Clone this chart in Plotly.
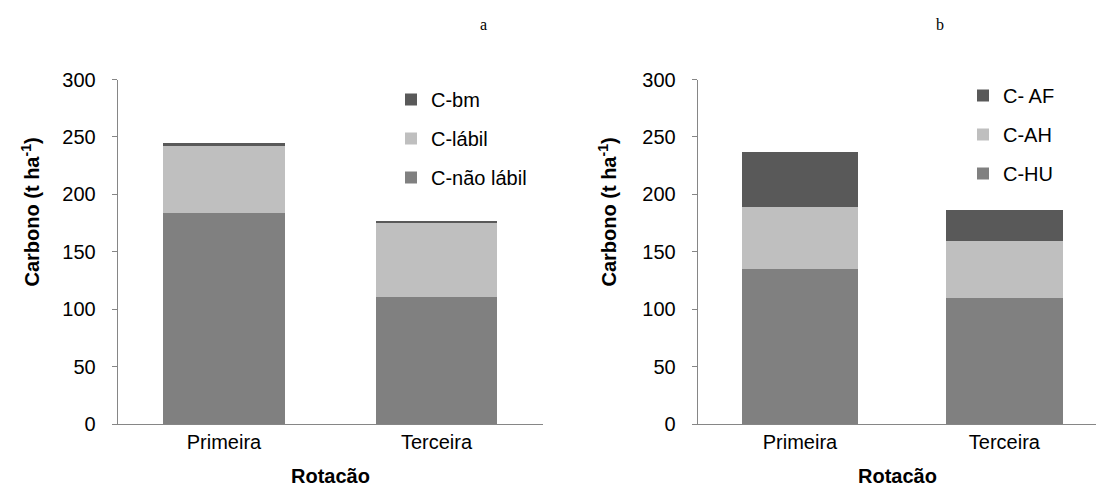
import plotly.graph_objects as go

W, H = 1096, 490

categories = ["Primeira", "Terceira"]

# Panel a
a_names = ["C-não lábil", "C-lábil", "C-bm"]
a_nao_labil = [183.7, 110.7]
a_labil = [59.2, 65.3]
a_bm = [1.7, 0.5]

# Panel b
b_names = ["C-HU", "C-AH", "C- AF"]
b_hu = [135.4, 110.1]
b_ah = [53.2, 49.2]
b_af = [48.3, 27.3]

colors = ["#808080", "#BFBFBF", "#595959"]
y_ticks = [0, 50, 100, 150, 200, 250, 300]

FONT = "Liberation Sans, Arial, sans-serif"
AXIS_COLOR = "#868686"

fig = go.Figure()

for i, (name, vals, col) in enumerate(zip(a_names, [a_nao_labil, a_labil, a_bm], colors)):
    fig.add_trace(go.Bar(x=categories, y=vals, name=name, marker=dict(color=col, line=dict(width=0)),
                         xaxis="x", yaxis="y", legend="legend", legendgroup="a" + name,
                         legendrank=10 - i))
for i, (name, vals, col) in enumerate(zip(b_names, [b_hu, b_ah, b_af], colors)):
    fig.add_trace(go.Bar(x=categories, y=vals, name=name, marker=dict(color=col, line=dict(width=0)),
                         xaxis="x2", yaxis="y2", legend="legend2", legendgroup="b" + name,
                         legendrank=10 - i))

def px_x(p):
    return p / W

def px_y(p):
    return 1 - p / H

y_bottom, y_top = 424, 79.5
ydom = [px_y(y_bottom), px_y(y_top)]

common_x = dict(type="category", showline=True, linecolor=AXIS_COLOR, linewidth=1, ticks="",
                showgrid=False, zeroline=False, tickfont=dict(family=FONT, size=20, color="#000000"),
                fixedrange=True, automargin=False)
common_y = dict(range=[0, 300], tickvals=y_ticks, showline=True, linecolor=AXIS_COLOR, linewidth=1,
                ticks="outside", ticklen=5, tickcolor=AXIS_COLOR, showgrid=False, zeroline=False,
                tickfont=dict(family=FONT, size=20, color="#000000"), ticklabelstandoff=12,
                automargin=False)

fig.update_layout(
    width=W, height=H,
    margin=dict(l=0, r=0, t=0, b=0, pad=0, autoexpand=False),
    paper_bgcolor="white", plot_bgcolor="white",
    barmode="stack", bargap=0.43,
    font=dict(family=FONT, size=20, color="#000000"),
    xaxis=dict(domain=[px_x(117.7), px_x(542.7)], range=[-0.5, 1.5], anchor="y", **common_x),
    yaxis=dict(domain=ydom, anchor="x", **common_y),
    xaxis2=dict(domain=[px_x(697.7), 1.0], range=[-0.5, 1.448], anchor="y2", **common_x),
    yaxis2=dict(domain=ydom, anchor="x2", **common_y),
    legend=dict(x=px_x(391), y=px_y(80), xanchor="left", yanchor="top", traceorder="grouped",
                tracegroupgap=10, font=dict(family=FONT, size=20), bgcolor="rgba(0,0,0,0)"),
    legend2=dict(x=px_x(963), y=px_y(76), xanchor="left", yanchor="top", traceorder="grouped",
                 tracegroupgap=10, font=dict(family=FONT, size=20), bgcolor="rgba(0,0,0,0)"),
    showlegend=True,
)

ann = []
ann.append(dict(text="a", x=px_x(483), y=px_y(25), xref="paper", yref="paper", showarrow=False,
                xanchor="center", yanchor="middle",
                font=dict(family="Liberation Serif, Times New Roman, serif", size=16)))
ann.append(dict(text="b", x=px_x(940), y=px_y(25), xref="paper", yref="paper", showarrow=False,
                xanchor="center", yanchor="middle",
                font=dict(family="Liberation Serif, Times New Roman, serif", size=16)))
for xc in [30, 607]:
    ann.append(dict(text="<b>Carbono (t ha<sup>-1</sup>)</b>", x=px_x(xc), y=px_y(212.5), xref="paper",
                    yref="paper", showarrow=False, textangle=-90, xanchor="center", yanchor="middle",
                    font=dict(family=FONT, size=20)))
for xc in [330, 897]:
    ann.append(dict(text="<b>Rotacão</b>", x=px_x(xc), y=px_y(476), xref="paper", yref="paper",
                    showarrow=False, xanchor="center", yanchor="middle", font=dict(family=FONT, size=20)))
fig.update_layout(annotations=ann)

fig.write_html("out.html", config={"displayModeBar": False},
               post_script="document.body.style.margin='0';document.body.style.overflow='hidden';")
